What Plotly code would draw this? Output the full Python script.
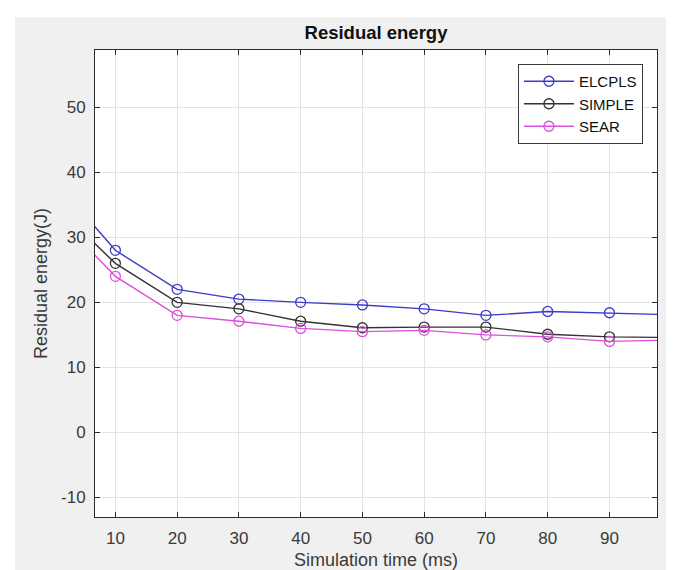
import plotly.graph_objects as go

time_ms = [0, 10, 20, 30, 40, 50, 60, 70, 80, 90, 100]
elcpls = [38.9, 28.0, 22.0, 20.5, 20.0, 19.6, 19.0, 18.0, 18.6, 18.4, 18.1]
simple = [35.1, 26.0, 20.0, 19.0, 17.1, 16.1, 16.2, 16.2, 15.1, 14.7, 14.6]
sear = [33.8, 24.0, 18.0, 17.1, 16.0, 15.5, 15.7, 15.0, 14.7, 14.0, 14.2]

x_ticks = [10, 20, 30, 40, 50, 60, 70, 80, 90]
y_ticks = [-10, 0, 10, 20, 30, 40, 50]
y_tick_labels = ["-10", "0", "10", "20", "30", "40", "50"]

series = [
    ("ELCPLS", elcpls, "#3c3cc6"),
    ("SIMPLE", simple, "#333333"),
    ("SEAR", sear, "#dc50dc"),
]

FONT = "Liberation Sans, Arial, sans-serif"

fig = go.Figure()
for name, vals, col in series:
    fig.add_trace(go.Scatter(
        x=time_ms, y=vals, name=name, mode="lines+markers",
        line=dict(color=col, width=1.4),
        marker=dict(symbol="circle-open", size=10, color=col, line=dict(width=1.3, color=col)),
        cliponaxis=True,
    ))

axis_common = dict(
    showline=True, linecolor="#2b2b2b", linewidth=1, mirror="ticks",
    ticks="inside", ticklen=5, tickcolor="#2b2b2b",
    showgrid=True, gridcolor="#e3e3e3", gridwidth=1, zeroline=False,
    tickfont=dict(family=FONT, size=17, color="#3a3a3a"),
)

fig.update_layout(
    width=674, height=570,
    paper_bgcolor="#f0f0f0", plot_bgcolor="#ffffff",
    margin=dict(l=87, r=25, t=42, b=57),
    title=dict(text="<b>Residual energy</b>", x=0.5, xref="paper", xanchor="center",
               y=1 - 24.5 / 570, yref="container", yanchor="middle",
               font=dict(family=FONT, size=18.5, color="#111111")),
    xaxis=dict(range=[6.7, 97.7], tickvals=x_ticks, ticklabelstandoff=6,
               title=dict(text="Simulation time (ms)", standoff=5,
                          font=dict(family=FONT, size=18, color="#3a3a3a")),
               **axis_common),
    yaxis=dict(range=[-13, 58.8], tickvals=y_ticks, ticktext=y_tick_labels, ticklabelstandoff=5,
               title=dict(text="Residual energy(J)", standoff=8,
                          font=dict(family=FONT, size=18, color="#3a3a3a")),
               **axis_common),
    legend=dict(x=0.975, y=0.97, xanchor="right", yanchor="top",
                bgcolor="#ffffff", bordercolor="#3a3a3a", borderwidth=1,
                font=dict(family=FONT, size=15, color="#111111"),
                itemwidth=50, tracegroupgap=0),
    showlegend=True,
    shapes=[
        dict(type="rect", xref="paper", yref="paper", x0=-0.3, x1=1.3, y0=1.0701, y1=1.3,
             fillcolor="#ffffff", line=dict(width=0), layer="below"),
        dict(type="rect", xref="paper", yref="paper", x0=-0.3, x1=-0.1423, y0=-0.3, y1=1.3,
             fillcolor="#ffffff", line=dict(width=0), layer="below"),
    ],
)

fig.write_html("out.html")
